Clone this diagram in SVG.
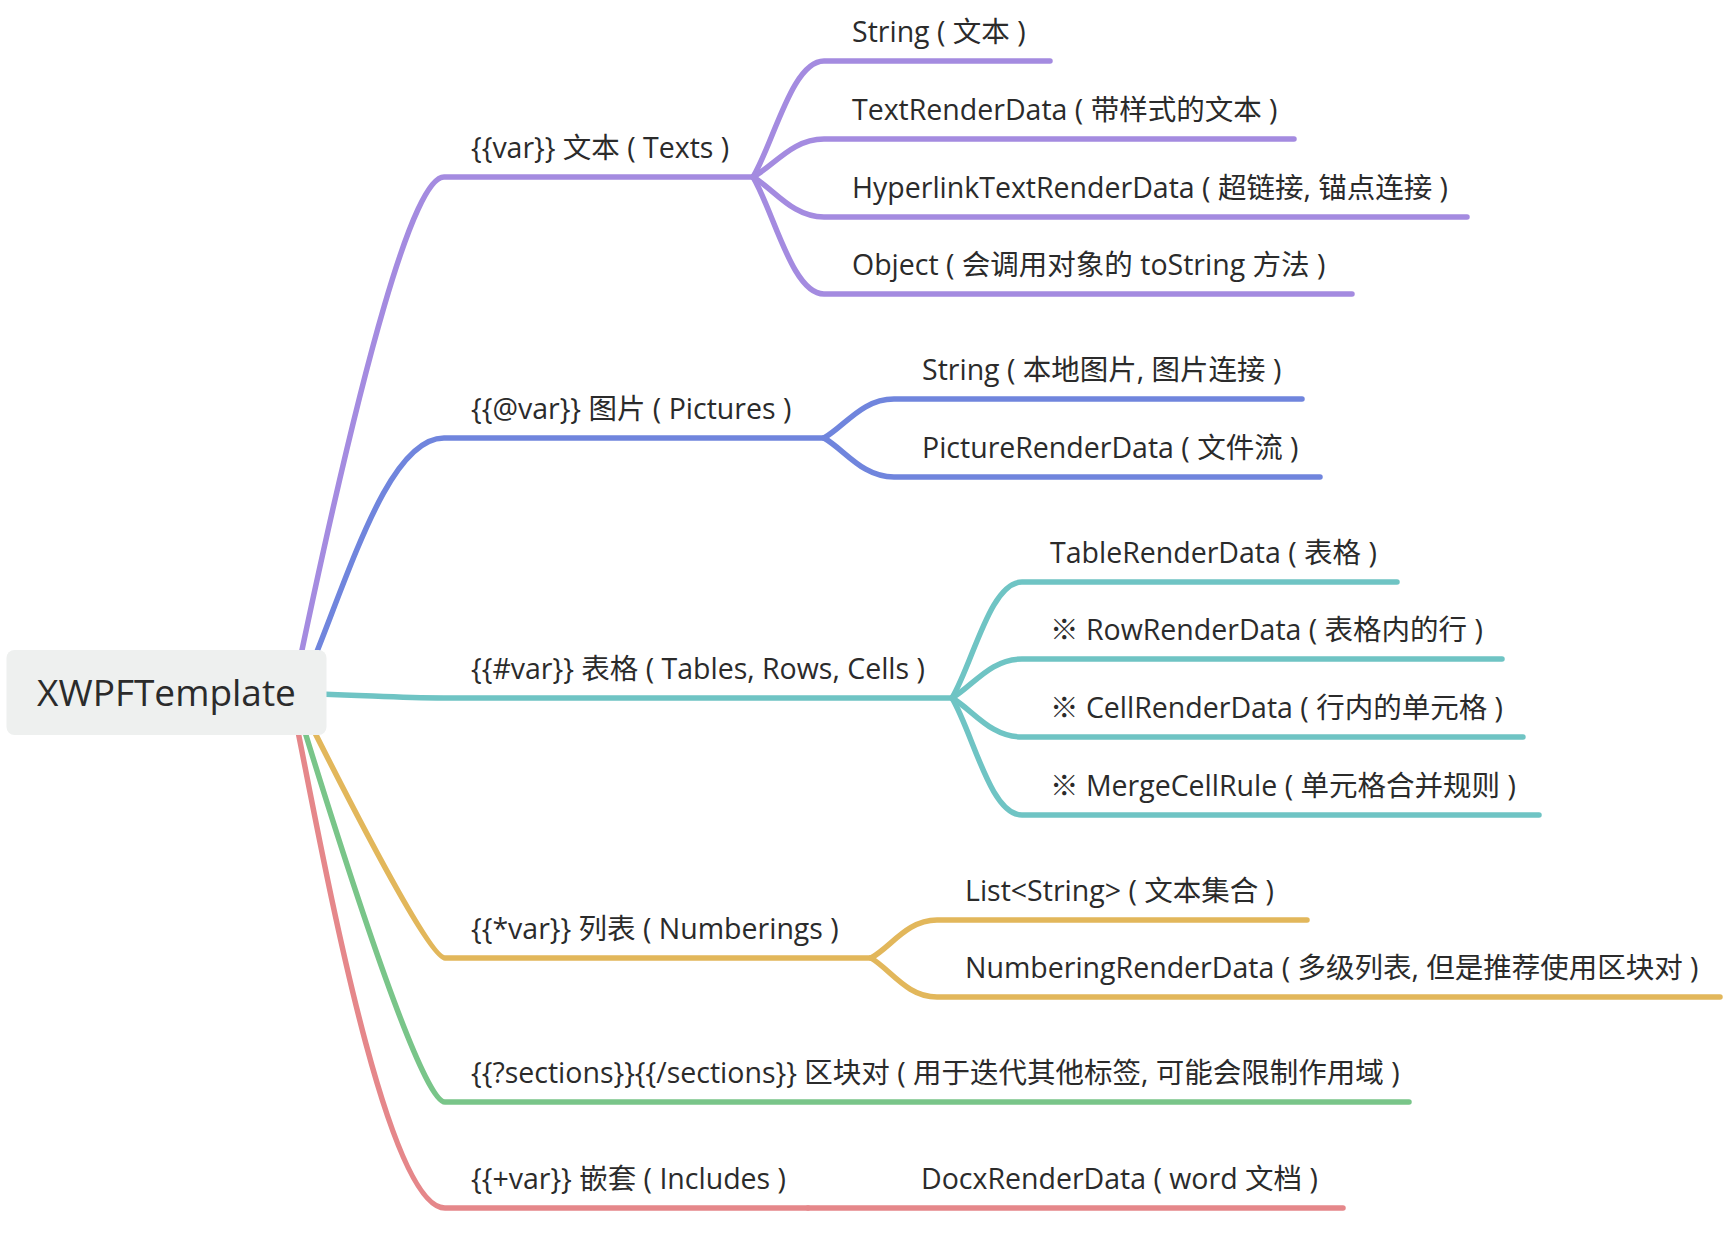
<svg xmlns="http://www.w3.org/2000/svg" width="1724" height="1252" viewBox="0 0 1724 1252">
<style>
.t{font-family:"Open Sans","Noto Sans CJK SC",sans-serif;font-size:28.5px;fill:#2b2b2b}
.root{font-family:"Open Sans","Noto Sans CJK SC",sans-serif;font-size:37px;fill:#2b2b2b}
.c{fill:none;stroke-width:5.5;stroke-linecap:round;stroke-linejoin:round}
.p{stroke:#a48be0}.b{stroke:#7085dd}.g{stroke:#6fc4c4}.y{stroke:#e2b75b}.n{stroke:#79c589}.r{stroke:#e5878a}
</style>
<rect width="1724" height="1252" fill="#ffffff"/>
<g id="connectors">
<path class="c p" d="M 293 693 Q 400 177 444 177 L 753 177"/>
<path class="c b" d="M 300 693 C 345 590 385 438 444 438 L 824 438"/>
<path class="c g" d="M 320 694 C 380 696 400 698 444 698 L 952 698"/>
<path class="c y" d="M 295 693 Q 427 958 445 958 L 871 958"/>
<path class="c n" d="M 293 693 Q 418 1102 445 1102 L 1409 1102"/>
<path class="c r" d="M 290 693 C 310 780 380 1208 445 1208 L 808 1208"/>
<path class="c p" d="M 753 177 C 774 142 792 61 824 61 L 1050 61"/>
<path class="c p" d="M 753 177 C 774 166 792 139 824 139 L 1294 139"/>
<path class="c p" d="M 753 177 C 774 189 792 217 824 217 L 1467 217"/>
<path class="c p" d="M 753 177 C 774 212 792 294 824 294 L 1352 294"/>
<path class="c b" d="M 824 438 C 845 426 862 399 894 399 L 1302 399"/>
<path class="c b" d="M 824 438 C 845 450 862 477 894 477 L 1320 477"/>
<path class="c g" d="M 952 698 C 973 663 990 582 1022 582 L 1397 582"/>
<path class="c g" d="M 952 698 C 973 686 990 659 1022 659 L 1502 659"/>
<path class="c g" d="M 952 698 C 973 710 990 737 1022 737 L 1523 737"/>
<path class="c g" d="M 952 698 C 973 733 990 815 1022 815 L 1539 815"/>
<path class="c y" d="M 871 958 C 891 947 907 920 937 920 L 1307 920"/>
<path class="c y" d="M 871 958 C 891 970 907 997 937 997 L 1720 997"/>
<path class="c r" d="M 808 1208 L 1343 1208"/>
</g>
<g id="node-root">
<rect x="6.5" y="650" width="320" height="85" rx="8" ry="8" fill="#eef0ef"/>
<text class="root" x="166.5" y="706" text-anchor="middle">XWPFTemplate</text>
</g>
<g id="node-texts"><text class="t" x="471" y="158">{{var}} 文本 ( Texts )</text></g>
<g id="node-texts-string"><text class="t" x="852" y="42">String ( 文本 )</text></g>
<g id="node-texts-trd"><text class="t" x="852" y="120">TextRenderData ( 带样式的文本 )</text></g>
<g id="node-texts-htrd"><text class="t" x="852" y="198">HyperlinkTextRenderData ( 超链接, 锚点连接 )</text></g>
<g id="node-texts-object"><text class="t" x="852" y="275">Object ( 会调用对象的 toString 方法 )</text></g>
<g id="node-pictures"><text class="t" x="471" y="419">{{@var}} 图片 ( Pictures )</text></g>
<g id="node-pictures-string"><text class="t" x="922" y="380">String ( 本地图片, 图片连接 )</text></g>
<g id="node-pictures-prd"><text class="t" x="922" y="458">PictureRenderData ( 文件流 )</text></g>
<g id="node-tables"><text class="t" x="471" y="679">{{#var}} 表格 ( Tables, Rows, Cells )</text></g>
<g id="node-tables-table"><text class="t" x="1050" y="563">TableRenderData ( 表格 )</text></g>
<g id="node-tables-row"><text class="t" x="1050" y="640">※ RowRenderData ( 表格内的行 )</text></g>
<g id="node-tables-cell"><text class="t" x="1050" y="718">※ CellRenderData ( 行内的单元格 )</text></g>
<g id="node-tables-merge"><text class="t" x="1050" y="796">※ MergeCellRule ( 单元格合并规则 )</text></g>
<g id="node-numberings"><text class="t" x="471" y="939">{{*var}} 列表 ( Numberings )</text></g>
<g id="node-numberings-list"><text class="t" x="965" y="901">List&lt;String&gt; ( 文本集合 )</text></g>
<g id="node-numberings-nrd"><text class="t" x="965" y="978">NumberingRenderData ( 多级列表, 但是推荐使用区块对 )</text></g>
<g id="node-sections"><text class="t" x="471" y="1083">{{?sections}}{{/sections}} 区块对 ( 用于迭代其他标签, 可能会限制作用域 )</text></g>
<g id="node-includes"><text class="t" x="471" y="1189">{{+var}} 嵌套 ( Includes )</text></g>
<g id="node-includes-docx"><text class="t" x="921" y="1189">DocxRenderData ( word 文档 )</text></g>
</svg>
